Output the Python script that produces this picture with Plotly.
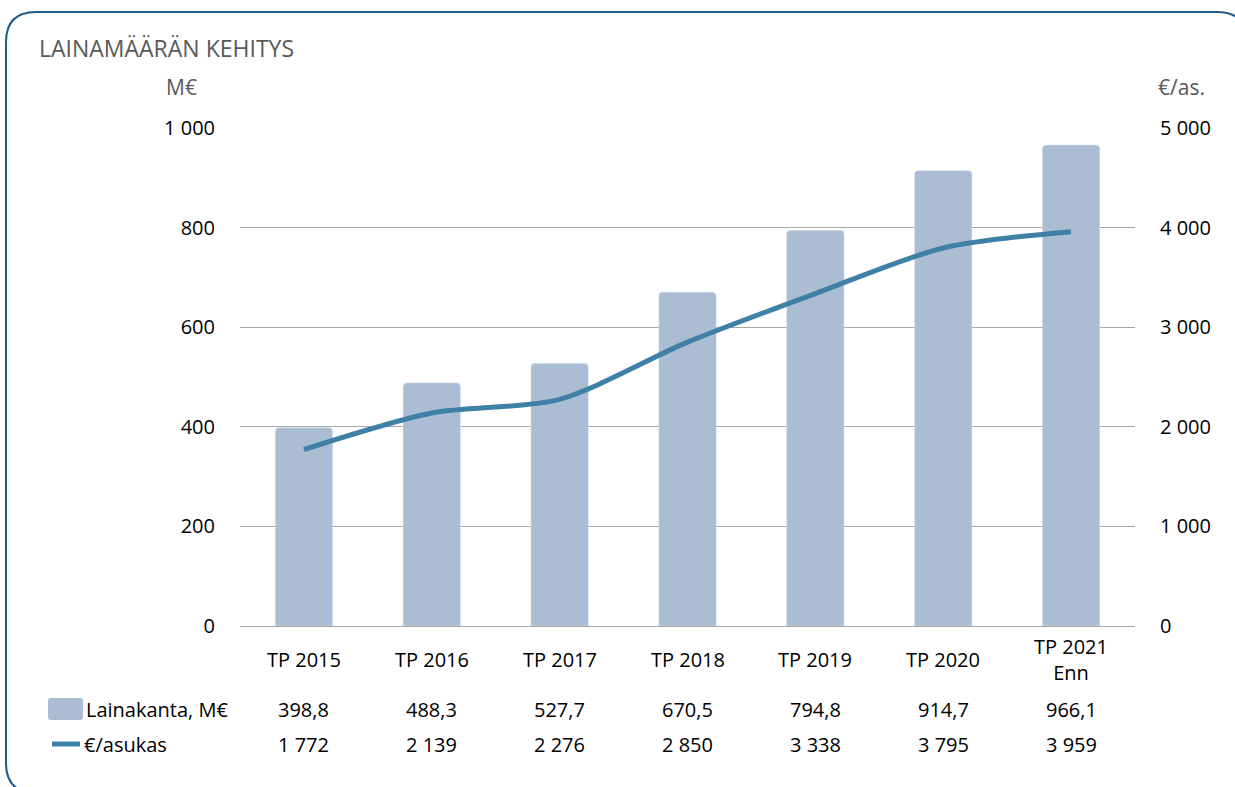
import plotly.graph_objects as go

# data
categories = ["TP 2015", "TP 2016", "TP 2017", "TP 2018", "TP 2019", "TP 2020", "TP 2021<br>Enn"]
lainakanta = [398.8, 488.3, 527.7, 670.5, 794.8, 914.7, 966.1]
per_asukas = [1772, 2139, 2276, 2850, 3338, 3795, 3959]
left_ticks = [0, 200, 400, 600, 800, 1000]
right_ticks = [0, 1000, 2000, 3000, 4000, 5000]

BAR = "#abbdd2"
LINE = "#3f80a6"
BORDER = "#1d5a8a"
FONT = "Open Sans"

W, H = 1235, 787
L, T = 240, 128
PW, PH = 895, 498
R, B = W - L - PW, H - T - PH


def fi(v, dec=0):
    s = f"{v:,.{dec}f}"
    return s.replace(",", " ").replace(".", ",")


def px(x):
    return (x - L) / PW


def py(y):
    return (T + PH - y) / PH


def rounded_rect(x0, y0, x1, y1, r):
    # pixel coords -> paper path
    rx, ry = r / PW, r / PH
    a, b, c, d = px(x0), py(y1), px(x1), py(y0)
    return (f"M{a + rx},{d} L{c - rx},{d} Q{c},{d} {c},{d - ry} "
            f"L{c},{b + ry} Q{c},{b} {c - rx},{b} L{a + rx},{b} "
            f"Q{a},{b} {a},{b + ry} L{a},{d - ry} Q{a},{d} {a + rx},{d} Z")


fig = go.Figure()
fig.add_trace(go.Bar(x=categories, y=lainakanta, marker=dict(color=BAR, cornerradius=4),
                     width=0.45, name="Lainakanta, M€"))
fig.add_trace(go.Scatter(x=categories, y=per_asukas, yaxis="y2", mode="lines",
                         line=dict(color=LINE, width=5, shape="spline", smoothing=0.8),
                         name="€/asukas"))

GRAY = dict(family=FONT, size=21, color="#595959")
ann = []
ann.append(dict(text="LAINAMÄÄRÄN KEHITYS", x=px(37), y=py(48), xanchor="left", yanchor="middle",
                font=dict(family=FONT, size=23, color="#595959")))
ann.append(dict(text="M€", x=px(181), y=py(87), xanchor="center", yanchor="middle", font=GRAY))
ann.append(dict(text="€/as.", x=px(1181), y=py(87), xanchor="center", yanchor="middle", font=GRAY))
for i, c in enumerate(categories):
    ann.append(dict(text=c, x=c, xref="x", y=py(659), xanchor="center", yanchor="middle"))
    ann.append(dict(text=fi(lainakanta[i], 1), x=c, xref="x", y=py(709), xanchor="center", yanchor="middle"))
    ann.append(dict(text=fi(per_asukas[i]), x=c, xref="x", y=py(744), xanchor="center", yanchor="middle"))
ann.append(dict(text="Lainakanta, M€", x=px(84), y=py(709), xanchor="left", yanchor="middle"))
ann.append(dict(text="€/asukas", x=px(82), y=py(744), xanchor="left", yanchor="middle"))
for a in ann:
    a.setdefault("xref", "paper")
    a["yref"] = "paper"
    a["showarrow"] = False
    a.setdefault("font", dict(family=FONT, size=20, color="#000000"))

shapes = [
    dict(type="path", path=rounded_rect(6, 12, 1247, 793, 30), xref="paper", yref="paper",
         line=dict(color=BORDER, width=2)),
    dict(type="path", path=rounded_rect(48, 698, 83, 720, 3), xref="paper", yref="paper",
         fillcolor=BAR, line=dict(width=0)),
    dict(type="line", x0=px(52), x1=px(80), y0=py(744), y1=py(744), xref="paper", yref="paper",
         line=dict(color=LINE, width=5)),
]

fig.update_layout(
    width=W, height=H,
    margin=dict(l=L, r=R, t=T, b=B),
    paper_bgcolor="white", plot_bgcolor="white",
    font=dict(family=FONT, size=20, color="#000000"),
    showlegend=False,
    xaxis=dict(showticklabels=False, showgrid=False, ticks="", showline=False,
               range=[-0.5, len(categories) - 0.5]),
    yaxis=dict(range=[0, 1000], tickvals=left_ticks, ticktext=[fi(v) for v in left_ticks],
               showgrid=True, gridcolor="#a6a6a6", gridwidth=1, zeroline=True,
               zerolinecolor="#a6a6a6", zerolinewidth=1, ticks="", ticklabelstandoff=24),
    yaxis2=dict(range=[0, 5000], tickvals=right_ticks, ticktext=[fi(v) for v in right_ticks],
                overlaying="y", side="right", showgrid=False, zeroline=False, ticks="",
                ticklabelstandoff=24),
    annotations=ann,
    shapes=shapes,
)

# drop the default body margin so the figure sits at the page corner
fig.write_html("out.html", config={"displayModeBar": False},
               post_script="document.body.style.margin='0';document.body.style.overflow='hidden';")
